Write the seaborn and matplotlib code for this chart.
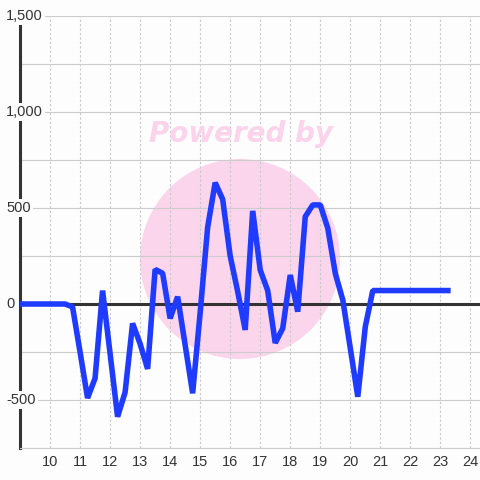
import matplotlib
matplotlib.use("Agg")
import matplotlib.pyplot as plt
import matplotlib.transforms as mtransforms
from matplotlib.patches import Circle
import seaborn as sns
import pandas as pd

# data: one value every 15 minutes, 09:00 .. 23:15
times = [
    "09:00", "09:15", "09:30", "09:45", "10:00", "10:15", "10:30", "10:45",
    "11:00", "11:15", "11:30", "11:45", "12:00", "12:15", "12:30", "12:45",
    "13:00", "13:15", "13:30", "13:45", "14:00", "14:15", "14:30", "14:45",
    "15:00", "15:15", "15:30", "15:45", "16:00", "16:15", "16:30", "16:45",
    "17:00", "17:15", "17:30", "17:45", "18:00", "18:15", "18:30", "18:45",
    "19:00", "19:15", "19:30", "19:45", "20:00", "20:15", "20:30", "20:45",
    "21:00", "21:15", "21:30", "21:45", "22:00", "22:15", "22:30", "22:45",
    "23:00", "23:15",
]
values = [
    0, 0, 0, 0, 0, 0, 0, -15,
    -250, -490, -387, 70, -258, -587, -460, -101,
    -207, -338, 180, 160, -75, 38, -213, -465,
    -45, 400, 632, 545, 250, 65, -135, 485,
    177, 70, -203, -127, 151, -40, 455, 516,
    516, 395, 160, 21, -230, -483, -118, 70,
    70, 70, 70, 70, 70, 70, 70, 70,
    70, 70,
]
x_ticks = list(range(10, 25))
y_grid = list(range(-750, 1501, 250))
y_labels = {1500: "1,500", 1000: "1,000", 500: "500", 0: "0", -500: "-500"}

df = pd.DataFrame({"time": times, "value": values})
hm = df["time"].str.split(":", expand=True).astype(int)
df["hour"] = hm[0] + hm[1] / 60

bg = "#fcfdfc"
sns.set_style("whitegrid")
plt.rcParams['font.family'] = ['Liberation Sans', 'DejaVu Sans']

fig = plt.figure(figsize=(4.8, 4.8), dpi=100, facecolor=bg)
ax = fig.add_axes([20 / 480, 32 / 480, 460 / 480, 432 / 480], facecolor=bg)

# watermark
ax.add_patch(Circle((0.5, 1 - 259 / 480), 100 / 480, transform=fig.transFigure,
                    facecolor="#fbd5ec", edgecolor="none", zorder=0.2))
ax.text(241 / 480, 1 - 134 / 480, "Powered by", transform=fig.transFigure,
        ha="center", va="center", fontsize=20, fontweight="bold", style="italic",
        color="#fbd3ea", family="DejaVu Sans", zorder=1)

ax.axhline(0, color="#333333", lw=2.2, zorder=2)
sns.lineplot(data=df, x="hour", y="value", ax=ax, color="#1f3bff", lw=4.0,
             zorder=3, solid_joinstyle="bevel", solid_capstyle="projecting")

ax.set_xlim(9, 24.32)
ax.set_ylim(-750, 1500)
ax.set_xticks(x_ticks)
ax.set_xticklabels([str(t) for t in x_ticks])
ax.set_yticks(y_grid)
ax.tick_params(axis="y", length=0, labelleft=False)
ax.tick_params(axis="x", length=0, pad=5, labelsize=10.5, labelcolor="#333333")
ax.grid(axis="y", color="#cccccc", lw=0.8, ls="-")
ax.grid(axis="x", color="#c8c8c8", lw=0.8, ls=(0, (2, 2)))
ax.set_xlabel("")
ax.set_ylabel("")

for s in ["top", "right"]:
    ax.spines[s].set_visible(False)
ax.spines["left"].set_color("#333333")
ax.spines["left"].set_linewidth(2.2)
ax.spines["bottom"].set_color("#cccccc")
ax.spines["bottom"].set_linewidth(0.8)

trans = mtransforms.blended_transform_factory(fig.transFigure, ax.transData)
for v, lab in y_labels.items():
    ax.text(6 / 480, v, lab, transform=trans, ha="left", va="center",
            fontsize=10.5, color="#333333", zorder=5, clip_on=False,
            bbox=dict(facecolor=bg, edgecolor="none", pad=1.5))

fig.savefig("out.png", dpi=100, facecolor=bg)
